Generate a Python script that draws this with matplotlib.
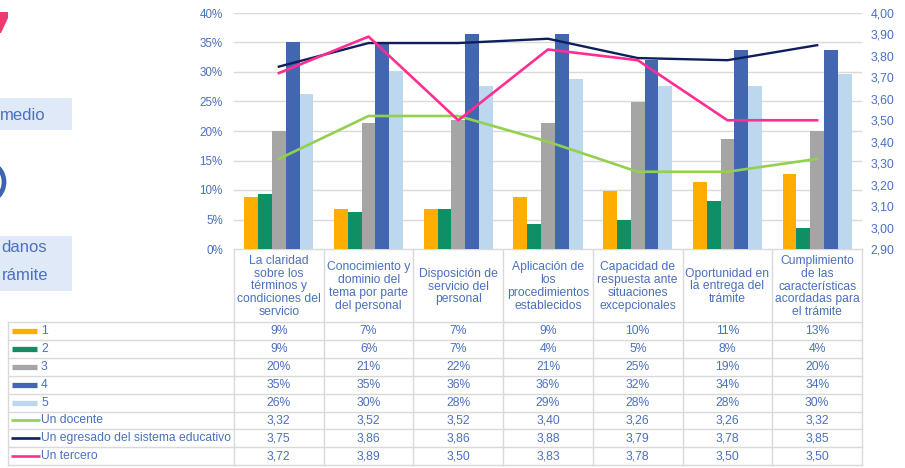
import matplotlib

matplotlib.use("Agg")
import matplotlib.pyplot as plt
import numpy as np
from matplotlib.patches import Ellipse, Polygon, Rectangle
from matplotlib.ticker import FuncFormatter, MultipleLocator

plt.rcParams["font.family"] = ["Liberation Sans", "DejaVu Sans"]

CATEGORIES = [
    "La claridad\nsobre los\ntérminos y\ncondiciones del\nservicio",
    "Conocimiento y\ndominio del\ntema por parte\ndel personal",
    "Disposición de\nservicio del\npersonal",
    "Aplicación de\nlos\nprocedimientos\nestablecidos",
    "Capacidad de\nrespuesta ante\nsituaciones\nexcepcionales",
    "Oportunidad en\nla entrega del\ntrámite",
    "Cumplimiento\nde las\ncaracterísticas\nacordadas para\nel trámite",
]

# share of answers per score (1..5)
SCORE_LABELS = ["1", "2", "3", "4", "5"]
SCORE_1 = [0.088, 0.068, 0.068, 0.088, 0.099, 0.113, 0.127]
SCORE_2 = [0.094, 0.063, 0.068, 0.043, 0.050, 0.081, 0.036]
SCORE_3 = [0.200, 0.214, 0.218, 0.214, 0.250, 0.187, 0.200]
SCORE_4 = [0.351, 0.351, 0.364, 0.364, 0.321, 0.338, 0.338]
SCORE_5 = [0.263, 0.302, 0.277, 0.288, 0.277, 0.277, 0.296]
SCORE_COLORS = ["#FFAE00", "#0F8F66", "#A5A5A5", "#4267B0", "#BDD7EE"]

# average rating per respondent group
GROUP_LABELS = ["Un docente", "Un egresado del sistema educativo", "Un tercero"]
DOCENTE = [3.32, 3.52, 3.52, 3.40, 3.26, 3.26, 3.32]
EGRESADO = [3.75, 3.86, 3.86, 3.88, 3.79, 3.78, 3.85]
TERCERO = [3.72, 3.89, 3.50, 3.83, 3.78, 3.50, 3.50]
GROUP_COLORS = ["#92D050", "#0D1F5C", "#FF2E93"]

TEXT_BLUE = "#4A70C0"
GRID = "#D9D9D9"

W, H = 905, 468
PLOT_L, PLOT_R, PLOT_T, PLOT_B = 234, 862, 13, 249
TABLE_L, HEADER_B, ROW_H = 8, 322, 17.9
TABLE_FS = 8.7

fig = plt.figure(figsize=(W / 100, H / 100), dpi=100)

# --- chart -----------------------------------------------------------------
ax = fig.add_axes([PLOT_L / W, 1 - PLOT_B / H, (PLOT_R - PLOT_L) / W, (PLOT_B - PLOT_T) / H])
n = len(CATEGORIES)
x = np.arange(n)
scores = [SCORE_1, SCORE_2, SCORE_3, SCORE_4, SCORE_5]
bar_w = 0.154
for k, (vals, color) in enumerate(zip(scores, SCORE_COLORS)):
    ax.bar(x + (k - 2) * bar_w, vals, width=bar_w, color=color, zorder=2)

ax.set_xlim(-0.5, n - 0.5)
ax.set_ylim(0, 0.40)
ax.yaxis.set_major_locator(MultipleLocator(0.05))
ax.yaxis.set_major_formatter(FuncFormatter(lambda v, _: f"{v * 100:.0f}%"))
ax.grid(axis="y", color=GRID, linewidth=1, zorder=0)
ax.set_xticks([])
ax.tick_params(axis="y", length=0, pad=8, labelsize=8.4, labelcolor=TEXT_BLUE)
for side in ax.spines.values():
    side.set_visible(False)

ax2 = ax.twinx()
groups = [DOCENTE, EGRESADO, TERCERO]
widths = [1.9, 1.7, 1.9]
for vals, color, lw in zip(groups, GROUP_COLORS, widths):
    ax2.plot(x, vals, color=color, linewidth=lw, zorder=3)
ax2.set_ylim(2.90, 4.00)
ax2.yaxis.set_major_locator(MultipleLocator(0.10))
ax2.yaxis.set_major_formatter(FuncFormatter(lambda v, _: f"{v:.2f}".replace(".", ",")))
ax2.tick_params(axis="y", length=0, pad=6, labelsize=8.8, labelcolor=TEXT_BLUE)
for side in ax2.spines.values():
    side.set_visible(False)

# --- data table under the chart --------------------------------------------
tab = fig.add_axes([0, 0, 1, 1], zorder=-1)
tab.set_xlim(0, W)
tab.set_ylim(H, 0)
tab.axis("off")

col_w = (PLOT_R - PLOT_L) / n
row_labels = SCORE_LABELS + GROUP_LABELS
row_values = [[f"{v * 100:.0f}%" for v in s] for s in scores]
row_values += [[f"{v:.2f}".replace(".", ",") for v in g] for g in groups]
table_b = HEADER_B + ROW_H * len(row_labels)

# header cells
for i, label in enumerate(CATEGORIES):
    cx = PLOT_L + (i + 0.5) * col_w
    tab.text(cx, (PLOT_B + HEADER_B) / 2 + 1, label, ha="center", va="center",
             fontsize=TABLE_FS, color=TEXT_BLUE, linespacing=1.08)
tab.plot([PLOT_L, PLOT_R], [PLOT_B, PLOT_B], color=GRID, lw=1)
for i in range(n + 1):
    tab.plot([PLOT_L + i * col_w] * 2, [PLOT_B, table_b], color=GRID, lw=1)
tab.plot([TABLE_L, TABLE_L], [HEADER_B, table_b], color=GRID, lw=1)

for r, (label, values) in enumerate(zip(row_labels, row_values)):
    top = HEADER_B + r * ROW_H
    cy = top + ROW_H / 2
    tab.plot([TABLE_L, PLOT_R], [top, top], color=GRID, lw=1)
    if r < len(SCORE_LABELS):
        tab.plot([12, 37], [cy, cy], color=SCORE_COLORS[r], lw=3.8, solid_capstyle="butt")
    else:
        tab.plot([11, 40], [cy, cy], color=GROUP_COLORS[r - len(SCORE_LABELS)], lw=1.9,
                 solid_capstyle="butt")
    tab.text(41, cy, label, ha="left", va="center", fontsize=TABLE_FS, color=TEXT_BLUE)
    for i, val in enumerate(values):
        tab.text(PLOT_L + (i + 0.5) * col_w, cy, val, ha="center", va="center",
                 fontsize=TABLE_FS, color=TEXT_BLUE)
tab.plot([TABLE_L, PLOT_R], [table_b, table_b], color=GRID, lw=1)

# --- side panel fragments ----------------------------------------------------
tab.add_patch(Polygon([(0, 12), (8, 12), (8, 18), (1, 33), (0, 33)], closed=True,
                      color="#EE3A6E", lw=0))
tab.add_patch(Rectangle((0, 98), 72, 32, color="#DFE9F8", lw=0))
tab.text(46, 115, "medio", ha="right", va="center", fontsize=12, color=TEXT_BLUE)
tab.add_patch(Ellipse((-13, 182), 34, 38, fill=False, edgecolor="#3E63B0", lw=3.4))
tab.add_patch(Rectangle((0, 236), 72, 55, color="#DFE9F8", lw=0))
tab.text(47, 247, "danos", ha="right", va="center", fontsize=12, color=TEXT_BLUE)
tab.text(48, 275, "rámite", ha="right", va="center", fontsize=12, color=TEXT_BLUE)

fig.savefig("out.png", dpi=100)
